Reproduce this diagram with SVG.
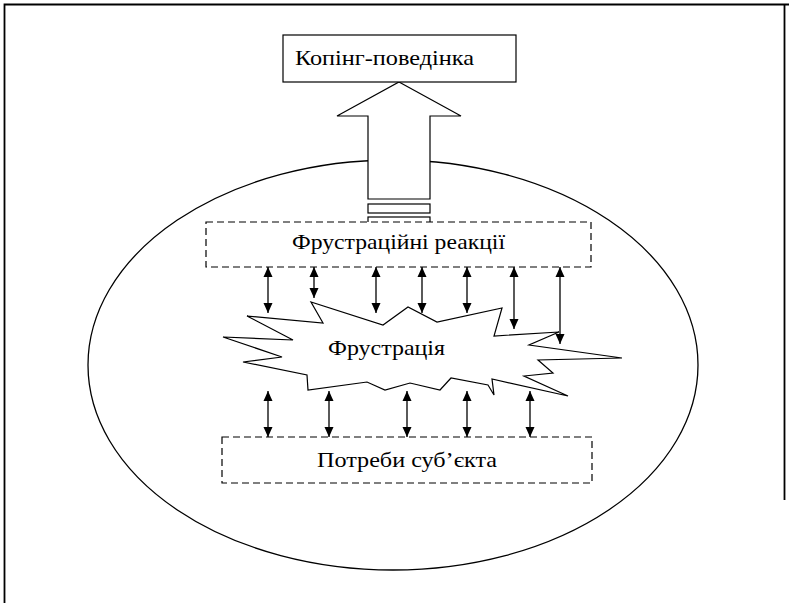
<svg xmlns="http://www.w3.org/2000/svg" width="789" height="603" viewBox="0 0 789 603">
<style>
.sh{fill:#fff;stroke:#000;stroke-width:1.2}
.dash{fill:#fff;stroke:#000;stroke-width:1.2;stroke-dasharray:7,4}
.t{font-family:"Liberation Serif","Times New Roman",serif;font-size:22px;fill:#000}
.c{stroke:#000;stroke-width:1.3;fill:none;marker-start:url(#ah);marker-end:url(#ah)}
</style>
<defs>
<marker id="ah" markerUnits="userSpaceOnUse" markerWidth="10" markerHeight="10" viewBox="0 0 10 10" refX="10" refY="5" orient="auto-start-reverse">
<path d="M0,0.5 L10,5 L0,9.5 Z" fill="#000"/>
</marker>
</defs>
<rect width="789" height="603" fill="#fff"/>
<g id="frame">
<path d="M4.5,603 V4.5 H789" fill="none" stroke="#000" stroke-width="1.8"/>
<path d="M784.5,4.5 V500" fill="none" stroke="#000" stroke-width="1.8"/>
</g>
<g id="subject">
<ellipse cx="393" cy="365" rx="305" ry="205" fill="#fff" stroke="#000" stroke-width="1.3"/>
</g>
<g id="big-arrow">
<polygon class="sh" points="399,82 461,116 430,116 430,199 368,199 368,116 337,116"/>
<rect class="sh" x="368" y="204" width="62" height="9"/>
<rect class="sh" x="368" y="217" width="62" height="8"/>
</g>
<g id="coping">
<rect class="sh" x="283" y="35" width="233" height="47"/>
<text class="t" x="295" y="65" textLength="179" lengthAdjust="spacingAndGlyphs">Копінг-поведінка</text>
</g>
<g id="reactions">
<rect class="dash" x="206" y="222" width="385" height="45"/>
<text class="t" x="292" y="249" textLength="213" lengthAdjust="spacingAndGlyphs">Фрустраційні реакції</text>
</g>
<g id="needs">
<rect class="dash" x="222" y="437" width="370" height="46"/>
<text class="t" x="317" y="467" textLength="180" lengthAdjust="spacingAndGlyphs">Потреби суб’єкта</text>
</g>
<g id="frustration">
<polygon class="sh" points="223,337 293,340 247,316 323,323 311,302 383,325 408,307 437,322 502,308 494,336 559,332 529,345 622,358 538,360 553,373 524,376 568,396 492,379 494,395 488,385 451,378 440,390 410,383 385,390 367,382 308,390 307,375 243,362 282,357"/>
<text class="t" x="328" y="355" textLength="117" lengthAdjust="spacingAndGlyphs">Фрустрація</text>
</g>
<g id="connectors">
<line class="c" x1="268" y1="267" x2="268" y2="313"/>
<line class="c" x1="314" y1="267" x2="314" y2="298"/>
<line class="c" x1="376" y1="267" x2="376" y2="313"/>
<line class="c" x1="422" y1="267" x2="422" y2="313"/>
<line class="c" x1="467" y1="267" x2="467" y2="313"/>
<line class="c" x1="514" y1="267" x2="514" y2="329"/>
<line class="c" x1="560" y1="267" x2="560" y2="344"/>
<line class="c" x1="268" y1="391" x2="268" y2="437"/>
<line class="c" x1="329" y1="391" x2="329" y2="437"/>
<line class="c" x1="407" y1="391" x2="407" y2="437"/>
<line class="c" x1="467" y1="391" x2="467" y2="437"/>
<line class="c" x1="530" y1="391" x2="530" y2="437"/>
</g>
</svg>
